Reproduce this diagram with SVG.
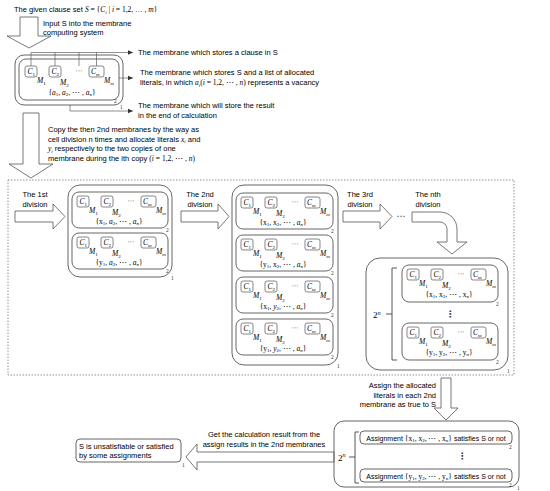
<svg xmlns="http://www.w3.org/2000/svg" width="550" height="491" viewBox="0 0 550 491">
<defs>
<style>
.t{font-family:"Liberation Sans",Arial,sans-serif;font-size:7.5px;fill:#000}
.m{font-family:"Liberation Serif","Times New Roman",serif;font-size:7.5px;fill:#000}
.i{font-style:italic}
.s{font-size:5px;font-style:normal}
.si{font-size:5px;font-style:italic}
.lb{font-family:"Liberation Serif",serif;font-size:5.5px;fill:#333}
.mem{fill:none;stroke:#555;stroke-width:0.9}
.cb{fill:#fff;stroke:#555;stroke-width:0.7}
.arr{fill:#fff;stroke:#555;stroke-width:0.8}
.ln{fill:none;stroke:#444;stroke-width:0.6}
.dash{fill:none;stroke:#777;stroke-width:0.8;stroke-dasharray:1.5 1.5}
.d{font-family:"DejaVu Sans",sans-serif;fill:#333}
</style>
<marker id="ah" markerWidth="6" markerHeight="6" refX="5" refY="3" orient="auto" markerUnits="userSpaceOnUse"><path d="M0,0.8 L5,3 L0,5.2 z" fill="#333"/></marker>
<g id="cls">
<rect class="cb" x="5" y="4" width="12" height="11" rx="2"/>
<rect class="cb" x="29" y="4" width="12" height="11" rx="2"/>
<rect class="cb" x="69" y="4" width="15" height="11" rx="2"/>
<text class="m i" x="7.5" y="12">C<tspan class="s" dy="1.5">1</tspan></text>
<text class="m i" x="31.5" y="12">C<tspan class="s" dy="1.5">2</tspan></text>
<text class="m i" x="71" y="12">C<tspan class="si" dy="1.5">m</tspan></text>
<text class="d" x="59" y="11" font-size="7" text-anchor="middle">⋯</text>
<text class="m i" x="17" y="21">M<tspan class="s" dy="2">1</tspan></text>
<text class="m i" x="40" y="23">M<tspan class="s" dy="2">2</tspan></text>
<text class="m i" x="84" y="21">M<tspan class="si" dy="2">m</tspan></text>
</g>
</defs>
<rect width="550" height="491" fill="#fff"/>

<!-- texts -->
<text class="t" x="14" y="12">The given clause set <tspan class="m i">S</tspan><tspan class="m"> = {</tspan><tspan class="m i">C</tspan><tspan class="m si" dy="1.5">i</tspan><tspan class="m" dy="-1.5"> | </tspan><tspan class="m i">i</tspan><tspan class="m"> = 1,2, … , </tspan><tspan class="m i">m</tspan><tspan class="m">}</tspan></text>
<text class="t" x="43" y="26">Input S into the membrane</text>
<text class="t" x="43" y="35">computing system</text>
<text class="t" x="138" y="55">The membrane which stores a clause in S</text>
<text class="t" x="140" y="75">The membrane which stores S and a list of allocated</text>
<text class="t" x="140" y="85">literals, in which <tspan class="m i">a</tspan><tspan class="m si" dy="1.5">i</tspan><tspan class="m" dy="-1.5">(</tspan><tspan class="m i">i</tspan><tspan class="m"> = 1,2, ⋯ , </tspan><tspan class="m i">n</tspan><tspan class="m">)</tspan> represents a vacancy</text>
<text class="t" x="138" y="108">The membrane which will store the result</text>
<text class="t" x="138" y="117.5">in the end of calculation</text>
<text class="t" x="48" y="132">Copy the then 2nd membranes by the way as</text>
<text class="t" x="48" y="141.5">cell division n times and allocate literals <tspan class="m i">x</tspan><tspan class="m si" dy="1.5">i</tspan><tspan dy="-1.5"> and</tspan></text>
<text class="t" x="48" y="151"><tspan class="m i">y</tspan><tspan class="m si" dy="1.5">i</tspan><tspan dy="-1.5"> respectively to the two copies of one</tspan></text>
<text class="t" x="48" y="160.5">membrane during the ith copy <tspan class="m">(</tspan><tspan class="m i">i</tspan><tspan class="m"> = 1,2, ⋯ , </tspan><tspan class="m i">n</tspan><tspan class="m">)</tspan></text>
<text class="t" x="35" y="197" text-anchor="middle">The 1st</text>
<text class="t" x="35" y="206.5" text-anchor="middle">division</text>
<text class="t" x="200" y="197" text-anchor="middle">The 2nd</text>
<text class="t" x="200" y="206.5" text-anchor="middle">division</text>
<text class="t" x="360" y="197" text-anchor="middle">The 3rd</text>
<text class="t" x="360" y="206.5" text-anchor="middle">division</text>
<text class="t" x="428" y="197" text-anchor="middle">The nth</text>
<text class="t" x="428" y="206.5" text-anchor="middle">division</text>
<text class="d" x="401" y="219" font-size="9" text-anchor="middle">⋯</text>
<text class="t" x="436" y="388" text-anchor="end">Assign the allocated</text>
<text class="t" x="436" y="397.5" text-anchor="end">literals in each 2nd</text>
<text class="t" x="436" y="407" text-anchor="end">membrane as true to S</text>
<text class="t" x="264" y="437" text-anchor="middle">Get the calculation result from the</text>
<text class="t" x="264" y="446.5" text-anchor="middle">assign results in the 2nd membranes</text>

<!-- dashed region -->
<rect class="dash" x="8" y="180" width="506" height="195"/>

<!-- hollow arrows -->
<g id="arrows">
<polygon class="arr" points="20,17 38,17 38,36 51,36 29,48 7,36 20,36"/>
<polygon class="arr" points="23,113 39,113 39,164 53,164 31,178 9,164 23,164"/>
<polygon class="arr" points="15,211 53,211 53,204 65,216.5 53,229 53,222 15,222"/>
<polygon class="arr" points="181,211 218,211 218,204 229,216.5 218,229 218,222 181,222"/>
<polygon class="arr" points="343,211 380,211 380,204 392,216.5 380,229 380,222 343,222"/>
<path class="arr" d="M412,212 H440 A17,17 0 0 1 457,229 V242 H467 L452,254 L437,242 H447 V229 A7,7 0 0 0 440,222 H412 Z"/>
<polygon class="arr" points="441,378 451,378 451,408 458,408 446,420 434,408 441,408"/>
<polygon class="arr" points="334,452 197,452 197,444 186,457 197,470 197,462 334,462"/>
</g>

<!-- connectors -->
<g id="connectors">
<path class="ln" d="M31,66 V52.5 M55,66 V52.5 M79,66 V52.5 M96.5,66 V52.5 M31,52.5 H133" marker-end="url(#ah)"/>
<path class="ln" d="M119,78 H133" marker-end="url(#ah)"/>
<path class="ln" d="M70,105 V111 H133" marker-end="url(#ah)"/>
</g>

<!-- top membranes -->
<g id="top-m1">
<rect class="mem" x="15" y="55" width="108" height="50" rx="9"/>
<text class="lb" x="120" y="108.5">1</text>
</g>
<g id="top-m2">
<rect class="mem" x="19" y="59" width="100" height="41" rx="7"/>
<use href="#cls" transform="translate(20,62)"/>
<text class="m" x="72" y="94.5" text-anchor="middle">{<tspan class="i">a</tspan><tspan class="s" dy="1.5">1</tspan><tspan dy="-1.5">, </tspan><tspan class="i">a</tspan><tspan class="s" dy="1.5">2</tspan><tspan dy="-1.5">, ⋯ , </tspan><tspan class="i">a</tspan><tspan class="si" dy="1.5">n</tspan><tspan dy="-1.5">}</tspan></text>
<text class="lb" x="114" y="103">2</text>
</g>

<!-- 1st division -->
<g id="d1-m1">
<rect class="mem" x="68" y="185" width="104" height="92" rx="12"/>
<text class="lb" x="171" y="280">1</text>
</g>
<g id="d1-a" transform="translate(72,192)">
<rect class="mem" width="96" height="36" rx="7"/>
<use href="#cls"/>
<text class="m" x="47" y="31.5" text-anchor="middle">{x<tspan class="s" dy="1.5">1</tspan><tspan dy="-1.5">, </tspan><tspan class="i">a</tspan><tspan class="s" dy="1.5">2</tspan><tspan dy="-1.5">, ⋯ , </tspan><tspan class="i">a</tspan><tspan class="si" dy="1.5">n</tspan><tspan dy="-1.5">}</tspan></text>
<text class="lb" x="94" y="39.5">2</text>
</g>
<g id="d1-b" transform="translate(72,233)">
<rect class="mem" width="96" height="36" rx="7"/>
<use href="#cls"/>
<text class="m" x="47" y="31.5" text-anchor="middle">{y<tspan class="s" dy="1.5">1</tspan><tspan dy="-1.5">, </tspan><tspan class="i">a</tspan><tspan class="s" dy="1.5">2</tspan><tspan dy="-1.5">, ⋯ , </tspan><tspan class="i">a</tspan><tspan class="si" dy="1.5">n</tspan><tspan dy="-1.5">}</tspan></text>
<text class="lb" x="94" y="39.5">2</text>
</g>

<!-- 2nd division -->
<g id="d2-m1">
<rect class="mem" x="232" y="185" width="106" height="180" rx="12"/>
<text class="lb" x="337" y="368">1</text>
</g>
<g id="d2-a" transform="translate(236,193)">
<rect class="mem" width="97" height="36" rx="7"/>
<use href="#cls"/>
<text class="m" x="47" y="31.5" text-anchor="middle">{x<tspan class="s" dy="1.5">1</tspan><tspan dy="-1.5">, x</tspan><tspan class="s" dy="1.5">2</tspan><tspan dy="-1.5">, ⋯ , </tspan><tspan class="i">a</tspan><tspan class="si" dy="1.5">n</tspan><tspan dy="-1.5">}</tspan></text>
<text class="lb" x="95" y="39.5">2</text>
</g>
<g id="d2-b" transform="translate(236,235)">
<rect class="mem" width="97" height="36" rx="7"/>
<use href="#cls"/>
<text class="m" x="47" y="31.5" text-anchor="middle">{y<tspan class="s" dy="1.5">1</tspan><tspan dy="-1.5">, x</tspan><tspan class="s" dy="1.5">2</tspan><tspan dy="-1.5">, ⋯ , </tspan><tspan class="i">a</tspan><tspan class="si" dy="1.5">n</tspan><tspan dy="-1.5">}</tspan></text>
<text class="lb" x="95" y="39.5">2</text>
</g>
<g id="d2-c" transform="translate(236,277)">
<rect class="mem" width="97" height="36" rx="7"/>
<use href="#cls"/>
<text class="m" x="47" y="31.5" text-anchor="middle">{x<tspan class="s" dy="1.5">1</tspan><tspan dy="-1.5">, </tspan><tspan class="i">y</tspan><tspan class="s" dy="1.5">2</tspan><tspan dy="-1.5">, ⋯ , </tspan><tspan class="i">a</tspan><tspan class="si" dy="1.5">n</tspan><tspan dy="-1.5">}</tspan></text>
<text class="lb" x="95" y="39.5">2</text>
</g>
<g id="d2-d" transform="translate(236,319)">
<rect class="mem" width="97" height="36" rx="7"/>
<use href="#cls"/>
<text class="m" x="47" y="31.5" text-anchor="middle">{y<tspan class="s" dy="1.5">1</tspan><tspan dy="-1.5">, </tspan><tspan class="i">y</tspan><tspan class="s" dy="1.5">2</tspan><tspan dy="-1.5">, ⋯ , </tspan><tspan class="i">a</tspan><tspan class="si" dy="1.5">n</tspan><tspan dy="-1.5">}</tspan></text>
<text class="lb" x="95" y="39.5">2</text>
</g>

<!-- nth division -->
<g id="dn-m1">
<rect class="mem" x="366" y="258" width="142" height="112" rx="14"/>
<path class="ln" d="M397,268 H392 V360 H397 M386,314 H392" style="stroke-width:0.9"/>
<text class="m" x="373" y="318" style="font-size:9px">2<tspan class="si" dy="-3.5" style="font-size:6px">n</tspan></text>
<text class="d" x="450" y="317" font-size="9" text-anchor="middle" font-weight="bold">⋮</text>
<text class="lb" x="507" y="373">1</text>
</g>
<g id="dn-a" transform="translate(402,265)">
<rect class="mem" width="96" height="37" rx="7"/>
<use href="#cls"/>
<text class="m" x="47" y="31.5" text-anchor="middle">{x<tspan class="s" dy="1.5">1</tspan><tspan dy="-1.5">, x</tspan><tspan class="s" dy="1.5">2</tspan><tspan dy="-1.5">, ⋯ , x</tspan><tspan class="s" dy="1.5">n</tspan><tspan dy="-1.5">}</tspan></text>
<text class="lb" x="94" y="40.5">2</text>
</g>
<g id="dn-b" transform="translate(402,323)">
<rect class="mem" width="96" height="37" rx="7"/>
<use href="#cls"/>
<text class="m" x="47" y="31.5" text-anchor="middle">{y<tspan class="s" dy="1.5">1</tspan><tspan dy="-1.5">, y</tspan><tspan class="s" dy="1.5">2</tspan><tspan dy="-1.5">, ⋯ , y</tspan><tspan class="s" dy="1.5">n</tspan><tspan dy="-1.5">}</tspan></text>
<text class="lb" x="94" y="40.5">2</text>
</g>

<!-- assignment membranes -->
<g id="as-m1">
<rect class="mem" x="334" y="421" width="185" height="66" rx="10"/>
<path class="ln" d="M359,432 H355 V483 H359 M349,457 H355" style="stroke-width:0.9"/>
<text class="m" x="338" y="460.5" style="font-size:9px">2<tspan class="si" dy="-3.5" style="font-size:6px">n</tspan></text>
<text class="d" x="462" y="459" font-size="9" text-anchor="middle" font-weight="bold">⋮</text>
<text class="lb" x="517" y="490">1</text>
</g>
<g id="as-a">
<rect class="mem" x="360" y="431" width="152" height="13" rx="4"/>
<text class="t" x="436" y="440.5" text-anchor="middle" style="font-size:7px">Assignment <tspan class="m">{x</tspan><tspan class="m s" dy="1.5">1</tspan><tspan class="m" dy="-1.5">, x</tspan><tspan class="m s" dy="1.5">2</tspan><tspan class="m" dy="-1.5">, ⋯ , x</tspan><tspan class="m s" dy="1.5">n</tspan><tspan class="m" dy="-1.5">}</tspan> satisfies S or not</text>
<text class="lb" x="509" y="449">2</text>
</g>
<g id="as-b">
<rect class="mem" x="360" y="469" width="152" height="13" rx="4"/>
<text class="t" x="436" y="478.5" text-anchor="middle" style="font-size:7px">Assignment <tspan class="m">{y</tspan><tspan class="m s" dy="1.5">1</tspan><tspan class="m" dy="-1.5">, y</tspan><tspan class="m s" dy="1.5">2</tspan><tspan class="m" dy="-1.5">, ⋯ , y</tspan><tspan class="m s" dy="1.5">n</tspan><tspan class="m" dy="-1.5">}</tspan> satisfies S or not</text>
<text class="lb" x="509" y="487">2</text>
</g>

<!-- result -->
<g id="result">
<rect class="mem" x="76" y="439" width="105" height="23" rx="4"/>
<text class="t" x="79" y="449">S is unsatisfiable or satisfied</text>
<text class="t" x="79" y="458">by some assignments</text>
<text class="lb" x="182" y="467">1</text>
</g>
</svg>
